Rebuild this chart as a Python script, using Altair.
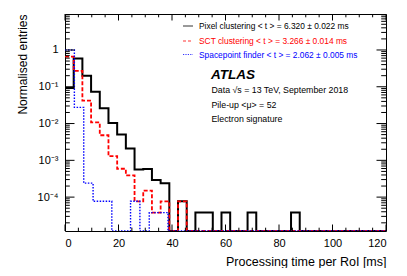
import altair as alt
import pandas as pd

# ---------------- data (normalised entries per bin) ----------------
pixel_bin_width = 3.25
pixel_vals = [0.092, 0.59, 0.20, 0.073, 0.026, 0.0104, 0.0050, 0.0021, 5.6e-4, 5.8e-4,
              2.9e-4, 2.4e-4, 0, 7.7e-5, 0, 3.8e-5, 3.8e-5, 0, 3.8e-5, 0,
              0, 3.8e-5, 0, 0, 0, 0, 3.8e-5, 0, 0, 0,
              0, 0, 0, 0, 0, 0, 0, 0]
sct_bin_width = 3.25
sct_vals = [0.66, 0.27, 0.042, 0.0107, 0.0048, 0.0013, 5.9e-4, 3.9e-4, 7.7e-5, 1.5e-4,
            3.8e-5, 7.7e-5, 0, 7.7e-5, 0, 0, 0, 0, 0, 0,
            0, 0, 0, 0, 0, 0, 0, 0, 0, 0,
            0, 0, 0, 0, 0, 0, 0, 0]
sp_bin_width = 3.5
sp_vals = [1.0, 0.0275, 2.4e-4, 7.7e-5, 7.7e-5, 0, 0, 7.7e-5, 0, 3.8e-5,
           3.8e-5, 0, 0, 0, 0, 0, 0, 0, 0, 0,
           0, 0, 0, 0, 0, 0, 0, 0, 0, 0,
           0, 0, 0, 0, 0, 0]

legend_labels = ["Pixel clustering  < t > = 6.320 ± 0.022 ms",
                 "SCT clustering  < t > = 3.266 ± 0.014 ms",
                 "Spacepoint finder  < t > = 2.062 ± 0.005 ms"]
series_colors = ["#000000", "#ff0000", "#0000ff"]

x_major = [0, 20, 40, 60, 80, 100, 120]
x_minor = [v for v in range(0, 121, 5) if v % 20 != 0]
y_major = [1e-4, 1e-3, 1e-2, 1e-1, 1]
y_major_labels = ["10⁻⁴", "10⁻³", "10⁻²", "10⁻¹", "1"]
y_domain = [1.2e-5, 9.5]
y_minor = [m * 10.0 ** n for n in range(-5, 1) for m in range(2, 10)
           if y_domain[0] <= m * 10.0 ** n <= y_domain[1]]

W, H = 321, 217
FONT = "Liberation Sans"
TINY = 1e-9

xs = alt.Scale(domain=[0, 120], nice=False, zero=False)
ys = alt.Scale(type="log", domain=y_domain, nice=False, clamp=True)


def step_df(vals, w):
    xv = [i * w for i in range(len(vals) + 1)]
    yv = [v if v > 0 else TINY for v in vals] + [vals[-1] if vals[-1] > 0 else TINY]
    return pd.DataFrame({"x": xv, "y": yv})


label_expr = " : ".join(
    f"datum.value > {v * 0.5} ? '{lab}'" for v, lab in
    sorted(zip(y_major, y_major_labels), key=lambda p: -p[0])
) + " : ''"

x_axis = alt.Axis(values=x_major, labelFontSize=11, labelFont=FONT, labelColor="black",
                  labelPadding=6, ticks=False, domain=False, grid=False,
                  title="Processing time per RoI [ms]", titleAnchor="end",
                  titleFont=FONT, titleFontSize=12.5, titleFontWeight="normal",
                  titleColor="black", titlePadding=7)
y_axis = alt.Axis(values=y_major, labelExpr=label_expr, labelFontSize=11, labelFont=FONT,
                  labelColor="black", labelPadding=7, ticks=False, domain=False, grid=False,
                  title="Normalised entries", titleAnchor="end", titleFont=FONT,
                  titleFontSize=12, titleFontWeight="normal", titleColor="black",
                  titlePadding=8)

X = alt.X("x:Q", scale=xs, axis=x_axis)
Y = alt.Y("y:Q", scale=ys, axis=y_axis)

pixel_line = alt.Chart(step_df(pixel_vals, pixel_bin_width)).mark_line(
    interpolate="step-after", color=series_colors[0], strokeWidth=2, clip=True
).encode(x=X, y=Y)

sct_line = alt.Chart(step_df(sct_vals, sct_bin_width)).mark_line(
    interpolate="step-after", color=series_colors[1], strokeWidth=1.8,
    strokeDash=[4, 2], clip=True
).encode(x=X, y=Y)

sp_line = alt.Chart(step_df(sp_vals, sp_bin_width)).mark_line(
    interpolate="step-after", color=series_colors[2], strokeWidth=1.4,
    strokeDash=[1.5, 1.5], clip=True
).encode(x=X, y=Y)


def xticks(vals, y0, y1):
    return alt.Chart(pd.DataFrame({"x": vals})).mark_rule(color="black", strokeWidth=1).encode(
        x=X, y=alt.value(y0), y2=alt.value(y1))


def yticks(vals, x0, x1):
    return alt.Chart(pd.DataFrame({"y": vals})).mark_rule(color="black", strokeWidth=1).encode(
        y=Y, x=alt.value(x0), x2=alt.value(x1))


tick_layers = [
    xticks(x_major, H, H - 6.5), xticks(x_minor, H, H - 3.3),
    xticks(x_major, 0, 6.5), xticks(x_minor, 0, 3.3),
    yticks(y_major, 0, 9.5), yticks(y_minor, 0, 4.8),
    yticks(y_major, W, W - 9.5), yticks(y_minor, W, W - 4.8),
]

one = alt.Data(values=[{}])
legend_y = [12, 27, 40.5]
legend_dash = [[1, 0], [3, 2], [1.2, 1.2]]
legend_layers = []
for lab, col, ly, dash in zip(legend_labels, series_colors, legend_y, legend_dash):
    legend_layers.append(alt.Chart(one).mark_rule(color=col, strokeWidth=0.8,
                                                  strokeDash=dash).encode(
        x=alt.value(118), x2=alt.value(128), y=alt.value(ly)))
    legend_layers.append(alt.Chart(one).mark_text(
        text=lab, color=col, font=FONT, fontSize=8.4, align="left", baseline="middle"
    ).encode(x=alt.value(134), y=alt.value(ly)))

atlas = alt.Chart(one).mark_text(
    text="ATLAS", font=FONT, fontSize=13.5, fontWeight="bold", fontStyle="italic",
    align="left", baseline="middle", color="black").encode(x=alt.value(146), y=alt.value(61))
info_texts = ["Data √s = 13 TeV, September 2018", "Pile-up <μ> = 52", "Electron signature"]
info_y = [76, 90.5, 104.5]
info_layers = [alt.Chart(one).mark_text(
    text=t, font=FONT, fontSize=8.8, align="left", baseline="middle", color="black"
).encode(x=alt.value(146.5), y=alt.value(yy)) for t, yy in zip(info_texts, info_y)]

chart = alt.layer(
    pixel_line, sct_line, sp_line, *tick_layers, *legend_layers, atlas, *info_layers
).properties(
    width=W, height=H,
    autosize=alt.AutoSizeParams(type="none"),
    padding={"left": 57, "top": 6, "right": 13, "bottom": 37},
    background="white",
).configure_view(stroke="black", strokeWidth=1)

chart.save("out.html", embed_options={"renderer": "svg", "actions": False})
